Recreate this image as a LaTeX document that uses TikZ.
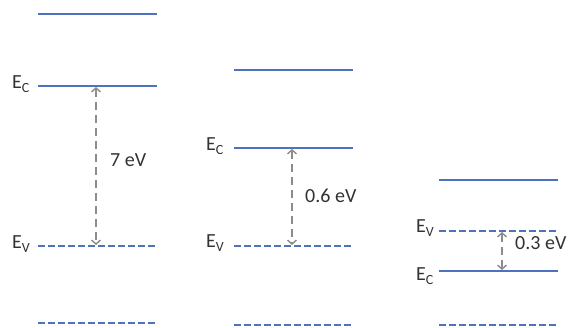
\documentclass[tikz,border=0pt]{standalone}
\usepackage{fontspec}
\setmainfont{Carlito}
\usetikzlibrary{arrows.meta}
\definecolor{bandblue}{RGB}{79,114,190}
\definecolor{gapgrey}{RGB}{140,140,140}
\definecolor{labelgrey}{RGB}{50,50,50}
\newcommand{\lev}[1]{E\raisebox{-0.4ex}{\fontsize{14}{14}\selectfont #1}}
\tikzset{
  level/.style={draw=bandblue, line width=2pt},
  dlevel/.style={draw=bandblue, line width=2pt, dash pattern=on 6.5pt off 3.5pt},
  gap/.style={draw=gapgrey, line width=1.4pt, dash pattern=on 8pt off 5pt,
    {Straight Barb[length=4pt,width=9pt,line width=1.4pt]}-{Straight Barb[length=4pt,width=9pt,line width=1.4pt]},
    shorten <=1pt, shorten >=1pt},
  elabel/.style={anchor=base west, text=labelgrey, font=\fontsize{20}{24}\selectfont, inner sep=0pt},
  glabel/.style={anchor=west, text=labelgrey, font=\fontsize{20}{24}\selectfont, inner sep=0pt},
}
\begin{document}
\begin{tikzpicture}[x=1pt,y=-1pt]
\useasboundingbox (0,0) rectangle (576,328);
% insulator
\coordinate (a1) at (38,14);  \coordinate (b1) at (157,14);
\coordinate (a2) at (38,86);  \coordinate (b2) at (157,86);
\coordinate (a3) at (38,246); \coordinate (b3) at (157,246);
\coordinate (a4) at (38,323); \coordinate (b4) at (157,323);
\draw[level] (a1) -- (b1);
\draw[level] (a2) -- (b2);
\draw[dlevel] (a3) -- (b3);
\draw[dlevel] (a4) -- (b4);
\coordinate (g1t) at (96,86); \coordinate (g1b) at (96,246);
\draw[gap] (g1t) -- (g1b);
\node[glabel] (t1) at (110,160) {7 eV};
\node[elabel] (ec1) at (12,89) {\lev{C}};
\node[elabel] (ev1) at (12,249) {\lev{V}};
% semiconductor
\coordinate (c1) at (234,70);  \coordinate (d1) at (353,70);
\coordinate (c2) at (234,148); \coordinate (d2) at (353,148);
\coordinate (c3) at (234,246); \coordinate (d3) at (353,246);
\coordinate (c4) at (234,325); \coordinate (d4) at (353,325);
\draw[level] (c1) -- (d1);
\draw[level] (c2) -- (d2);
\draw[dlevel] (c3) -- (d3);
\draw[dlevel] (c4) -- (d4);
\coordinate (g2t) at (292,148); \coordinate (g2b) at (292,246);
\draw[gap] (g2t) -- (g2b);
\node[glabel] (t2) at (305,196) {0.6 eV};
\node[elabel] (ec2) at (206,151) {\lev{C}};
\node[elabel] (ev2) at (206,248) {\lev{V}};
% overlapping bands
\coordinate (e1) at (439,180); \coordinate (f1) at (558,180);
\coordinate (e2) at (439,231); \coordinate (f2) at (558,231);
\coordinate (e3) at (439,271); \coordinate (f3) at (558,271);
\coordinate (e4) at (439,325); \coordinate (f4) at (558,325);
\draw[level] (e1) -- (f1);
\draw[dlevel] (e2) -- (f2);
\draw[level] (e3) -- (f3);
\draw[dlevel] (e4) -- (f4);
\coordinate (g3t) at (502,231); \coordinate (g3b) at (502,271);
\draw[gap] (g3t) -- (g3b);
\node[glabel] (t3) at (515,243) {0.3 eV};
\node[elabel] (ev3) at (416,233) {\lev{V}};
\node[elabel] (ec3) at (416,281) {\lev{C}};
\end{tikzpicture}
\end{document}
